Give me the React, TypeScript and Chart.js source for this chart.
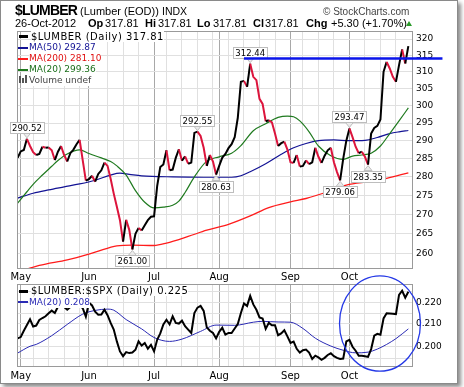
import React, { useEffect, useRef } from "react";
import { Chart, registerables } from "chart.js";
Chart.register(...registerables);

// ---------- data (trading-day index 0 = 30-Apr-2012 ... 126 = 26-Oct-2012) ----------
const price = [
  285.2, 287.0, 287.4, 290.52, 288.5, 286.8, 286.0, 286.3, 288.3, 288.0,
  288.1, 287.3, 284.6, 286.9, 288.5, 286.0, 284.2, 286.5, 287.5, 289.0,
  290.2, 284.5, 279.0, 279.4, 280.3, 278.7, 280.8, 281.8, 283.9, 283.0,
  279.5, 275.5, 272.0, 268.5, 263.0, 268.6, 266.0, 261.0, 265.0, 266.5,
  265.8, 267.2, 268.5, 269.4, 269.5, 277.5, 282.7, 283.4, 287.3, 281.8,
  282.0, 285.2, 287.6, 284.4, 285.6, 283.6, 283.9, 292.2, 292.55, 291.3,
  288.0, 283.0, 286.0, 284.2, 280.63, 283.0, 285.3, 286.3, 287.9, 289.0,
  291.0, 296.5, 307.0, 307.3, 305.5, 312.44, 308.5, 307.5, 302.0, 300.5,
  295.5, 295.8, 295.2, 292.0, 288.5, 289.3, 289.7, 287.5, 284.0, 283.8,
  286.0, 282.8, 283.0, 284.5, 283.5, 284.0, 288.0, 285.5, 283.8, 285.8,
  287.3, 288.0, 284.0, 281.3, 279.06, 285.0, 290.0, 293.47, 291.0, 288.3,
  286.5, 286.9, 285.5, 283.35, 292.0, 293.6, 294.2, 296.0, 310.0, 313.0,
  311.0, 308.5, 307.0, 312.0, 316.8, 312.51, 317.81,
];

const ma20Idx = [0, 3, 5, 8, 11, 13, 16, 20, 23, 27, 30, 32, 35, 38, 41, 44, 47, 50, 52, 54, 57, 61, 65, 69, 72, 76, 80, 84, 87, 89, 91, 94, 97, 101, 105, 108, 111, 114, 117, 120, 123, 126];
const ma20Val = [273.0, 276.0, 278.0, 280.5, 282.9, 284.5, 286.3, 287.4, 286.4, 285.2, 284.2, 283.0, 280.5, 276.3, 273.2, 271.7, 271.9, 272.4, 273.5, 275.8, 280.0, 284.3, 285.5, 286.5, 288.6, 292.8, 294.8, 296.6, 297.0, 296.8, 295.6, 292.5, 288.5, 285.8, 284.8, 285.7, 286.0, 286.5, 288.5, 292.0, 295.6, 299.36];

const ma50Idx = [0, 5, 10, 15, 20, 25, 30, 33, 36, 40, 50, 60, 69, 72, 75, 80, 85, 89, 93, 97, 102, 107, 112, 116, 120, 123, 126];
const ma50Val = [274.3, 275.6, 276.5, 277.3, 278.1, 279.1, 280.5, 281.0, 280.7, 280.3, 280.0, 279.9, 279.9, 280.3, 281.4, 283.6, 286.2, 288.0, 289.2, 290.0, 290.2, 290.0, 290.1, 290.9, 292.0, 292.5, 292.87];

const ma200Idx = [0, 7, 16, 25, 32, 37, 44, 48, 55, 61, 68, 75, 81, 88, 93, 100, 106, 114, 119, 126];
const ma200Val = [255.3, 257.0, 258.4, 260.3, 261.9, 262.1, 262.0, 262.6, 264.3, 265.9, 267.4, 269.6, 271.8, 273.3, 274.2, 276.0, 277.8, 278.8, 279.6, 281.10];

const ratio = [
  0.2036, 0.2042, 0.2070, 0.2095, 0.2121, 0.2089, 0.2093, 0.2118, 0.2127, 0.2135,
  0.2149, 0.2161, 0.2150, 0.2179, 0.2190, 0.2178, 0.2165, 0.2178, 0.2183, 0.2187,
  0.2187, 0.2172, 0.2133, 0.2198, 0.2185, 0.2156, 0.2142, 0.2143, 0.2165, 0.2140,
  0.2105, 0.2075, 0.2023, 0.1980, 0.1960, 0.1977, 0.1973, 0.1975, 0.1987, 0.2023,
  0.2005, 0.2016, 0.1992, 0.2008, 0.1980, 0.2030, 0.2058, 0.2098, 0.2119, 0.2098,
  0.2135, 0.2105, 0.2102, 0.2115, 0.2090, 0.2075, 0.2060, 0.2150, 0.2175, 0.2183,
  0.2160, 0.2085, 0.2070, 0.2060, 0.2036, 0.2065, 0.2083, 0.2053, 0.2060, 0.2060,
  0.2080, 0.2100, 0.2150, 0.2195, 0.2183, 0.2230, 0.2190, 0.2165, 0.2130, 0.2125,
  0.2078, 0.2105, 0.2094, 0.2094, 0.2050, 0.2058, 0.2072, 0.2045, 0.2016, 0.2022,
  0.1991, 0.1975, 0.1985, 0.1988, 0.1975, 0.1948, 0.1962, 0.1955, 0.1945, 0.1953,
  0.1965, 0.1972, 0.1960, 0.1953, 0.1948, 0.1950, 0.2023, 0.2030, 0.2000, 0.1983,
  0.1962, 0.1962, 0.1960, 0.1957, 0.1990, 0.2048, 0.2056, 0.2052, 0.2125, 0.2149,
  0.2148, 0.2147, 0.2145, 0.2235, 0.2255, 0.2222, 0.2250,
];

const ratioMaIdx = [0, 4, 6, 11, 16, 21, 25, 29, 31, 35, 40, 44, 49, 53, 59, 64, 70, 76, 79, 84, 88, 92, 96, 101, 105, 109, 113, 116, 119, 122, 126];
const ratioMaVal = [0.1973, 0.2002, 0.2010, 0.2048, 0.2098, 0.2145, 0.2162, 0.2168, 0.2163, 0.2120, 0.2078, 0.2040, 0.2023, 0.2033, 0.2067, 0.2095, 0.2094, 0.2108, 0.2112, 0.2109, 0.2108, 0.2080, 0.2037, 0.2003, 0.1985, 0.1974, 0.1977, 0.1990, 0.2010, 0.2035, 0.2078];

const monthStarts = [1, 23, 44, 65, 88, 107];
const monthLabels = ["May", "Jun", "Jul", "Aug", "Sep", "Oct"];
const weekStarts = [5, 10, 15, 20, 29, 34, 39, 48, 53, 58, 63, 68, 73, 78, 83, 92, 97, 102, 112, 117, 122];
const priceTicks = [260, 265, 270, 275, 280, 285, 290, 295, 300, 305, 310, 315, 320];
const ratioTicks = [0.195, 0.2, 0.205, 0.21, 0.215, 0.22, 0.225];
const ratioLabeled = [0.2, 0.21, 0.22];

// annotated highs (up) and lows (down), by index into price
const markers = [
  { i: 3, up: true }, { i: 58, up: true }, { i: 75, up: true }, { i: 107, up: true },
  { i: 37, up: false }, { i: 64, up: false }, { i: 104, up: false }, { i: 113, up: false },
];
const resistance = { from: 73, to: 137, level: 314.0 };
const circle = { x0: 103.8, x1: 129.9, yTop: 0.2328, yBottom: 0.1898 };

const FONT = '"DejaVu Sans", Verdana, sans-serif';
const SANS = '"Liberation Sans", Arial, sans-serif';

const framePlugin = {
  id: "frame",
  afterDatasetsDraw(chart: any) {
    const { ctx, chartArea: a } = chart;
    ctx.save();
    ctx.strokeStyle = "#9a9a9a";
    ctx.lineWidth = 1;
    ctx.strokeRect(Math.round(a.left) + 0.5, Math.round(a.top) + 0.5, Math.round(a.right - a.left) - 1, Math.round(a.bottom - a.top) - 1);
    ctx.restore();
  },
};

const mainAnno = {
  id: "mainAnno",
  afterDatasetsDraw(chart: any) {
    const { ctx } = chart;
    const x = chart.scales.x;
    const y = chart.scales.y;
    ctx.save();
    ctx.font = `8.5px ${FONT}`;
    for (const m of markers) {
      const v = price[m.i];
      const px = x.getPixelForValue(m.i);
      const py = y.getPixelForValue(v);
      const txt = v.toFixed(2);
      const w = Math.round(ctx.measureText(txt).width + 4);
      const h = 11;
      const gap = 6;
      const bx = Math.round(px - w / 2) + 0.5;
      const by = m.up ? Math.round(py - gap - h) + 0.5 : Math.round(py + gap) + 0.5;
      ctx.beginPath();
      if (m.up) {
        ctx.moveTo(px - 4, py - gap);
        ctx.lineTo(px + 4, py - gap);
        ctx.lineTo(px, py - 1);
      } else {
        ctx.moveTo(px - 4, py + gap);
        ctx.lineTo(px + 4, py + gap);
        ctx.lineTo(px, py + 1);
      }
      ctx.closePath();
      ctx.fillStyle = "#ececec";
      ctx.fill();
      ctx.strokeStyle = "#bdbdbd";
      ctx.lineWidth = 1;
      ctx.stroke();
      ctx.fillStyle = "#fff";
      ctx.fillRect(bx, by, w, h);
      ctx.strokeRect(bx, by, w, h);
      ctx.fillStyle = "#000";
      ctx.textAlign = "center";
      ctx.textBaseline = "middle";
      ctx.fillText(txt, px, by + h / 2 + 0.5);
    }
    const ly = y.getPixelForValue(resistance.level);
    ctx.strokeStyle = "#0a14ea";
    ctx.lineWidth = 2.5;
    ctx.beginPath();
    ctx.moveTo(x.getPixelForValue(resistance.from), ly);
    ctx.lineTo(x.getPixelForValue(resistance.to), ly);
    ctx.stroke();
    ctx.restore();
  },
};

const lowAnno = {
  id: "lowAnno",
  afterDraw(chart: any) {
    const { ctx } = chart;
    const x = chart.scales.x;
    const y = chart.scales.y;
    const l = x.getPixelForValue(circle.x0);
    const r = x.getPixelForValue(circle.x1);
    const t = y.getPixelForValue(circle.yTop);
    const b = y.getPixelForValue(circle.yBottom);
    ctx.save();
    ctx.strokeStyle = "#2438e6";
    ctx.lineWidth = 1.3;
    ctx.beginPath();
    ctx.ellipse((l + r) / 2, (t + b) / 2, (r - l) / 2, (b - t) / 2, 0, 0, Math.PI * 2);
    ctx.stroke();
    ctx.restore();
  },
};

function xAxis(bottomH: number, pad: number) {
  const gridIdx = [...monthStarts, ...weekStarts].sort((a, b) => a - b);
  return {
    type: "linear",
    min: -0.2,
    max: 127.5,
    afterBuildTicks: (s: any) => {
      s.ticks = gridIdx.map((v) => ({ value: v }));
    },
    afterFit: (s: any) => {
      s.height = bottomH;
    },
    ticks: {
      autoSkip: false,
      maxRotation: 0,
      minRotation: 0,
      padding: pad,
      color: "#000",
      font: { family: FONT, size: 10 },
      callback: (v: number) => {
        const k = monthStarts.indexOf(v);
        return k >= 0 ? monthLabels[k] : "";
      },
    },
    grid: {
      drawTicks: false,
      lineWidth: 1,
      color: (c: any) => (c.tick && monthStarts.includes(c.tick.value) ? "#a8a8a8" : "#e0e0e0"),
    },
    border: { display: false },
  };
}

const pts = (xs: number[], ys: number[]) => xs.map((xv, k) => ({ x: xv, y: ys[k] }));
const series = (ys: number[]) => ys.map((yv, i) => ({ x: i, y: yv }));

export default function App() {
  const mainRef = useRef<HTMLCanvasElement | null>(null);
  const lowRef = useRef<HTMLCanvasElement | null>(null);

  useEffect(() => {
    document.body.style.margin = "0";
    const smooth = { pointRadius: 0, cubicInterpolationMode: "monotone", tension: 0.4, fill: false };
    const main = new Chart(mainRef.current as HTMLCanvasElement, {
      type: "line",
      data: {
        datasets: [
          {
            data: series(price),
            borderColor: "#000",
            borderWidth: 2,
            pointRadius: 0,
            tension: 0,
            segment: {
              borderColor: (c: any) => (c.p1.parsed.y < c.p0.parsed.y ? "#dc143c" : "#000"),
            },
          },
          { data: pts(ma20Idx, ma20Val), borderColor: "#1f7a1f", borderWidth: 1.2, ...smooth },
          { data: pts(ma50Idx, ma50Val), borderColor: "#121294", borderWidth: 1.2, ...smooth },
          { data: pts(ma200Idx, ma200Val), borderColor: "#ff1c1c", borderWidth: 1.3, ...smooth },
        ],
      } as any,
      options: {
        animation: false,
        responsive: false,
        devicePixelRatio: 1,
        events: [],
        layout: { padding: { left: 17, top: 31, right: 0, bottom: 0 } },
        plugins: { legend: { display: false }, tooltip: { enabled: false } },
        scales: {
          x: xAxis(13, 2),
          y: {
            type: "logarithmic",
            position: "right",
            min: 256.1,
            max: 322.5,
            afterBuildTicks: (s: any) => {
              s.ticks = priceTicks.map((v) => ({ value: v }));
            },
            afterFit: (s: any) => {
              s.width = 44;
            },
            ticks: {
              padding: 3,
              color: "#000",
              font: { family: FONT, size: 9 },
              callback: (v: number) => String(v),
            },
            grid: { drawTicks: false, color: "#e0e0e0", lineWidth: 1 },
            border: { display: false },
          },
        },
      } as any,
      plugins: [framePlugin, mainAnno],
    });

    const low = new Chart(lowRef.current as HTMLCanvasElement, {
      type: "line",
      data: {
        datasets: [
          { data: series(ratio), borderColor: "#000", borderWidth: 2, pointRadius: 0, tension: 0 },
          { data: pts(ratioMaIdx, ratioMaVal), borderColor: "#2a2ab4", borderWidth: 1, ...smooth },
        ],
      } as any,
      options: {
        animation: false,
        responsive: false,
        devicePixelRatio: 1,
        events: [],
        layout: { padding: { left: 17, top: 14, right: 0, bottom: 0 } },
        plugins: { legend: { display: false }, tooltip: { enabled: false } },
        scales: {
          x: xAxis(15, 3),
          y: {
            type: "logarithmic",
            position: "right",
            min: 0.1915,
            max: 0.2288,
            afterBuildTicks: (s: any) => {
              s.ticks = ratioTicks.map((v) => ({ value: v }));
            },
            afterFit: (s: any) => {
              s.width = 44;
            },
            ticks: {
              padding: 3,
              color: "#000",
              font: { family: FONT, size: 9 },
              callback: (v: number) =>
                ratioLabeled.some((t) => Math.abs(t - v) < 1e-6) ? v.toFixed(3) : "",
            },
            grid: { drawTicks: false, color: "#e0e0e0", lineWidth: 1 },
            border: { display: false },
          },
        },
      } as any,
      plugins: [framePlugin, lowAnno],
    });

    return () => {
      main.destroy();
      low.destroy();
    };
  }, []);

  const abs = (left: number, top: number, extra: any = {}) => ({
    position: "absolute" as const,
    left,
    top,
    whiteSpace: "pre" as const,
    ...extra,
  });
  const line2 = (left: number, text: string, bold = false) => (
    <div style={abs(left, 18, { font: `${bold ? "bold " : ""}11px ${SANS}`, lineHeight: "11px", color: "#000" })}>{text}</div>
  );
  const dash = (left: number, top: number, color: string, h: number, w = 9) => (
    <div style={abs(left, top, { width: w, height: h, background: color })} />
  );
  const legText = (left: number, top: number, text: string, color: string, size: number, ls: string) => (
    <div style={abs(left, top, { font: `${size}px ${FONT}`, lineHeight: "11px", color, letterSpacing: ls, background: "#fff" })}>{text}</div>
  );

  return (
    <div style={{ position: "absolute", left: 0, top: 0, width: 464, height: 387, background: "#fff", overflow: "hidden" }}>
      <div style={{ position: "absolute", left: 0, top: 0, width: 456, height: 382, border: "1px solid #8a8a8a", boxShadow: "3px 3px 4px rgba(0,0,0,0.45)", background: "#fff" }} />
      <canvas ref={mainRef} width={457} height={282} style={{ position: "absolute", left: 0, top: 0, width: 457, height: 282 }} />
      <canvas ref={lowRef} width={457} height={112} style={{ position: "absolute", left: 0, top: 270, width: 457, height: 112 }} />

      {/* header */}
      <div style={abs(15, 3, { font: `bold 14px ${SANS}`, lineHeight: "14px", letterSpacing: "-0.8px", color: "#000" })}>$LUMBER</div>
      <div style={abs(80, 6, { font: `11px ${SANS}`, lineHeight: "11px", color: "#000" })}>(Lumber (EOD))</div>
      <div style={abs(162, 6, { font: `10.5px ${SANS}`, lineHeight: "11px", color: "#000" })}>INDX</div>
      <div style={abs(323, 6.5, { font: `10px ${SANS}`, lineHeight: "10px", color: "#444" })}>© StockCharts.com</div>
      {line2(15, "26-Oct-2012")}
      {line2(88, "Op", true)}
      {line2(105, "317.81")}
      {line2(145, "Hi", true)}
      {line2(158, "317.81")}
      {line2(197, "Lo", true)}
      {line2(213, "317.81")}
      {line2(253, "Cl", true)}
      {line2(265, "317.81")}
      {line2(306, "Chg", true)}
      {line2(331, "+5.30 (+1.70%)")}
      <div style={abs(406, 21, { width: 0, height: 0, borderLeft: "3.5px solid transparent", borderRight: "3.5px solid transparent", borderBottom: "5px solid #2a9a2a" })} />

      {/* main legend */}
      {dash(19, 35, "#000", 3)}
      {legText(31, 31, "$LUMBER (Daily) 317.81", "#000", 10, "0.5px")}
      {dash(18, 46.5, "#121294", 2.5, 10)}
      {legText(29, 41.5, "MA(50) 292.87", "#121294", 9, "0px")}
      {dash(18, 57.5, "#ff1c1c", 2.5, 10)}
      {legText(29, 52.5, "MA(200) 281.10", "#e01010", 9, "0px")}
      {dash(18, 68.5, "#1f7a1f", 2.5, 10)}
      {legText(29, 63.5, "MA(20) 299.36", "#1a6e1a", 9, "0px")}
      <div style={abs(19, 76, { width: 2, height: 7, background: "#555" })} />
      <div style={abs(22, 78, { width: 2, height: 5, background: "#555" })} />
      <div style={abs(25, 75, { width: 2, height: 8, background: "#555" })} />
      {legText(29, 74.5, "Volume undef", "#444", 9, "0px")}

      {/* lower legend */}
      {dash(19, 290, "#000", 2.5)}
      {legText(31, 285, "$LUMBER:$SPX (Daily) 0.225", "#000", 10, "0.5px")}
      {dash(18, 300.5, "#2a2ab4", 2, 10)}
      {legText(29, 296.5, "MA(20) 0.208", "#2a2ab4", 9, "0px")}
    </div>
  );
}
